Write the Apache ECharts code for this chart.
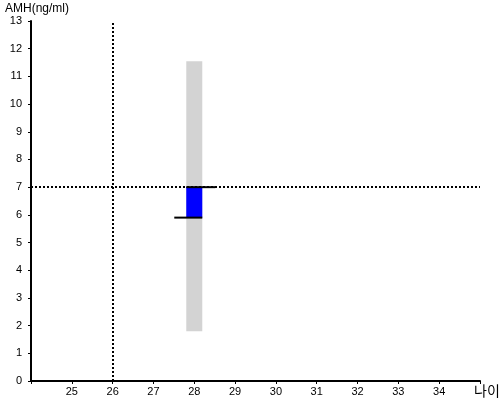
<!DOCTYPE html>
<html>
<head>
<meta charset="utf-8">
<script src="https://cdn.jsdelivr.net/npm/echarts@6/dist/echarts.min.js"></script>
<style>html,body{margin:0;padding:0;background:#fff}#c{width:500px;height:400px}</style>
</head>
<body>
<div id="c"></div>
<script>
// Data
var xRange = [24, 35];
var yRange = [0, 13];
var rangeBar = [[28, 1.8, 11.55]];     // [age, low, high] grey reference range
var valueBox = [[28, 5.9, 7.0]];       // [age, from, to] blue box
var refX = 26;                          // vertical dotted line (age)
var refY = 7;                           // horizontal dotted line (AMH)
var xTitle = '나이';
var yTitle = 'AMH(ng/ml)';

var chart = echarts.init(document.getElementById('c'), null, {renderer: 'canvas'});
var font = 'Liberation Sans, Arial, sans-serif';
chart.setOption({
  animation: false,
  backgroundColor: '#fff',
  grid: {left: 31, right: 20, top: 21, bottom: 19},
  xAxis: {
    type: 'value', min: xRange[0], max: xRange[1], interval: 1,
    axisLine: {show: true, lineStyle: {color: '#000', width: 2}},
    axisTick: {show: true, length: 3, lineStyle: {color: '#000', width: 1}},
    splitLine: {show: false},
    axisLabel: {color: '#000', fontSize: 11, fontFamily: font, margin: 5,
      formatter: function (v) { return (v === xRange[0] || v === xRange[1]) ? '' : String(v); }}
  },
  yAxis: {
    type: 'value', min: yRange[0], max: yRange[1], interval: 1,
    axisLine: {show: true, lineStyle: {color: '#000', width: 2}},
    axisTick: {show: true, length: 3, lineStyle: {color: '#000', width: 1}},
    splitLine: {show: false},
    axisLabel: {color: '#000', fontSize: 11, fontFamily: font, margin: 9}
  },
  graphic: [
    {type: 'text', left: 5, top: 3, style: {text: yTitle, fill: '#000', font: '12px ' + font}},
    {type: 'text', left: 474, top: 384, style: {text: xTitle, fill: '#000', font: '14px "Noto Sans CJK KR", sans-serif'}}
  ],
  series: [
    {
      type: 'custom', data: rangeBar, z: 2,
      renderItem: function (params, api) {
        var lo = api.coord([api.value(0), api.value(1)]);
        var hi = api.coord([api.value(0), api.value(2)]);
        return {type: 'rect', shape: {x: lo[0] - 8, y: hi[1], width: 16, height: lo[1] - hi[1]},
          style: {fill: '#d3d3d3'}};
      },
      markLine: {
        silent: true, symbol: ['none', 'none'], label: {show: false},
        lineStyle: {color: '#000', width: 2, type: [2, 2]},
        data: [{xAxis: refX}, {yAxis: refY}]
      }
    },
    {
      type: 'custom', data: valueBox, z: 5,
      renderItem: function (params, api) {
        var lo = api.coord([api.value(0), api.value(1)]);
        var hi = api.coord([api.value(0), api.value(2)]);
        var cx = lo[0];
        return {type: 'group', children: [
          {type: 'rect', shape: {x: cx - 8, y: hi[1], width: 16, height: lo[1] - hi[1]}, style: {fill: '#0000ff'}},
          {type: 'line', shape: {x1: cx - 8, y1: hi[1], x2: cx + 21, y2: hi[1]}, style: {stroke: '#000', lineWidth: 2}},
          {type: 'line', shape: {x1: cx - 20, y1: lo[1], x2: cx + 8, y2: lo[1]}, style: {stroke: '#000', lineWidth: 2}}
        ]};
      }
    }
  ]
});
</script>
</body>
</html>
